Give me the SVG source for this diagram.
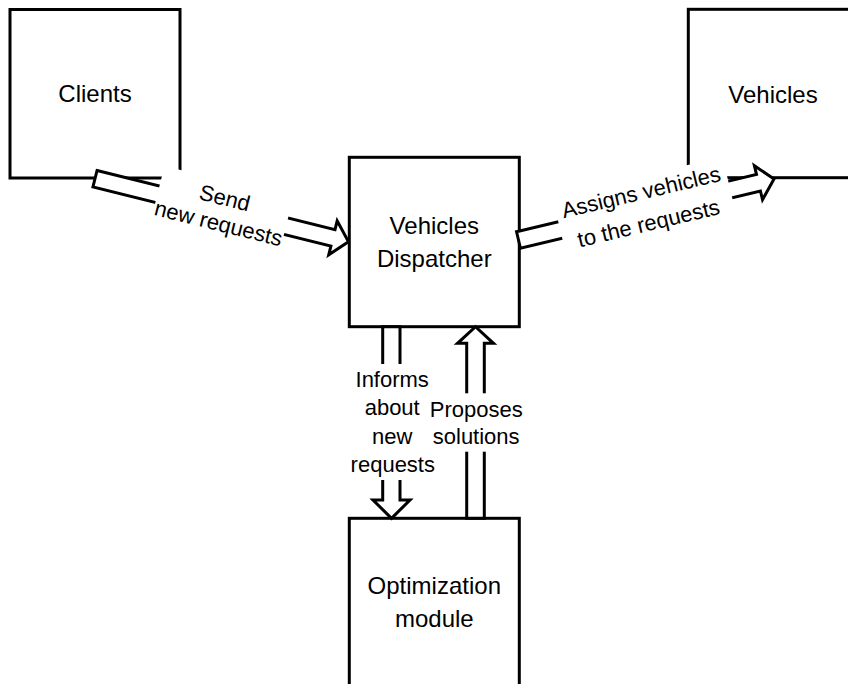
<svg xmlns="http://www.w3.org/2000/svg" width="848" height="684" viewBox="0 0 848 684">
<style>
.box{fill:#fff;stroke:#000;stroke-width:3}
.arr{fill:#fff;stroke:#000;stroke-width:3;stroke-linejoin:miter}
.bg{fill:#fff;stroke:none}
.nt{font-family:"Liberation Sans",Arial,sans-serif;font-size:24px;fill:#000;text-anchor:middle}
.lt{font-family:"Liberation Sans",Arial,sans-serif;font-size:22px;fill:#000;text-anchor:middle}
</style>
<rect width="848" height="684" fill="#fff"/>
<g id="clients">
<rect class="box" x="10" y="9.5" width="170" height="168.5"/>
<text class="nt" x="95" y="102">Clients</text>
</g>
<g id="vehicles">
<rect class="box" x="688.3" y="9.3" width="170" height="168.4"/>
<text class="nt" x="773" y="103">Vehicles</text>
</g>
<g id="dispatcher">
<rect class="box" x="349.3" y="157.3" width="170" height="169.4"/>
<text class="nt" x="434.3" y="234">Vehicles</text>
<text class="nt" x="434.3" y="266.7">Dispatcher</text>
</g>
<g id="optimization">
<rect class="box" x="349.3" y="518.3" width="170" height="170"/>
<text class="nt" x="434.3" y="594.3">Optimization</text>
<text class="nt" x="434.3" y="626.7">module</text>
</g>
<g id="connectors">
<polygon class="arr" transform="translate(95,178.7) rotate(13.96)" points="0,-8.5 245.2,-8.5 245.2,-17.5 261.2,0 245.2,17.5 245.2,8.5 0,8.5"/>
<polygon class="arr" transform="translate(518.5,240) rotate(-13.43)" points="0,-8.5 246.7,-8.5 246.7,-17.5 262.7,0 246.7,17.5 246.7,8.5 0,8.5"/>
<polygon class="arr" points="382.7,326.7 400,326.7 400,500 410,500 391.5,518.3 373,500 382.7,500"/>
<polygon class="arr" points="466.7,518.3 466.7,343.3 457.5,343.3 475.5,326.7 493.5,343.3 484.3,343.3 484.3,518.3"/>
<g transform="translate(164.5,166) rotate(14)">
<rect class="bg" x="0" y="0" width="132.5" height="64"/>
<text class="lt" x="66.25" y="24">Send</text>
<text class="lt" x="66.25" y="50">new requests</text>
</g>
<g transform="translate(552.5,197.3) rotate(-13.4)">
<rect class="bg" x="0" y="0" width="174.7" height="62"/>
<text class="lt" x="87.4" y="23">Assigns vehicles</text>
<text class="lt" x="87.4" y="55">to the requests</text>
</g>
<rect class="bg" x="355" y="364" width="75" height="116"/>
<rect class="bg" x="436" y="393.3" width="86" height="58.4"/>
<text class="lt" x="392.2" y="387.3">Informs</text>
<text class="lt" x="392.2" y="415">about</text>
<text class="lt" x="392.2" y="444">new</text>
<text class="lt" x="392.8" y="471.7">requests</text>
<text class="lt" x="476.2" y="417.3">Proposes</text>
<text class="lt" x="476.2" y="444">solutions</text>
</g>
</svg>
